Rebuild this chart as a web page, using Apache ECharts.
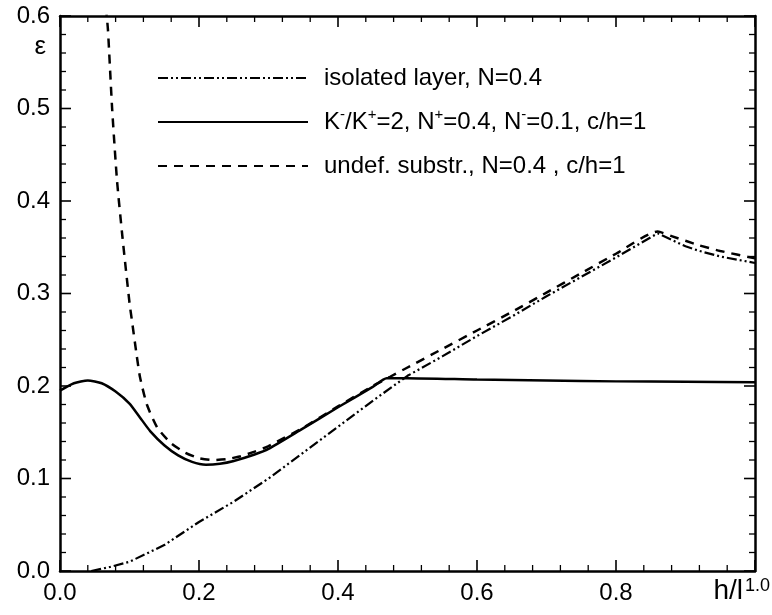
<!DOCTYPE html>
<html>
<head>
    <meta charset="utf-8" />
    <title>epsilon vs h/l</title>
    <script src="https://cdn.jsdelivr.net/npm/echarts@6/dist/echarts.min.js"></script>
    <style>
        html, body { margin: 0; padding: 0; background: #fff; }
        #chart1 { width: 772px; height: 615px; }
    </style>
</head>
<body>
    <div id="chart1"></div>
    <script type="text/javascript">
        // isolated layer (dash-dot-dot)
        var isoX = [0.045, 0.07, 0.1, 0.15, 0.2, 0.25, 0.3, 0.35, 0.4, 0.45, 0.5, 0.55, 0.6, 0.65, 0.7, 0.75, 0.8, 0.83, 0.86, 0.88, 0.9, 0.92, 0.95, 1.0];
        var isoY = [0.0, 0.004, 0.01, 0.028, 0.053, 0.075, 0.1, 0.128, 0.156, 0.184, 0.211, 0.232, 0.254, 0.275, 0.297, 0.318, 0.339, 0.352, 0.365, 0.358, 0.351, 0.346, 0.34, 0.333];
        // K-/K+=2 (solid)
        var kX = [0.0, 0.02, 0.04, 0.06, 0.08, 0.1, 0.115, 0.13, 0.15, 0.17, 0.19, 0.21, 0.23, 0.25, 0.28, 0.3, 0.345, 0.4, 0.45, 0.47, 0.5, 0.6, 0.7, 0.8, 0.9, 1.0];
        var kY = [0.195, 0.203, 0.206, 0.203, 0.194, 0.181, 0.166, 0.151, 0.136, 0.125, 0.118, 0.115, 0.116, 0.119, 0.126, 0.132, 0.152, 0.177, 0.199, 0.2085, 0.2085, 0.207, 0.206, 0.205, 0.2045, 0.204];
        // undeformable substrate (dashed)
        var subX = [0.066, 0.069, 0.075, 0.082, 0.09, 0.1, 0.104, 0.11, 0.115, 0.125, 0.14, 0.16, 0.18, 0.2, 0.22, 0.24, 0.26, 0.28, 0.3, 0.35, 0.4, 0.45, 0.475, 0.5, 0.55, 0.6, 0.65, 0.7, 0.75, 0.8, 0.86, 0.88, 0.9, 0.92, 0.95, 1.0];
        var subY = [0.61, 0.585, 0.5, 0.4225, 0.36, 0.29, 0.268, 0.235, 0.21, 0.18, 0.155, 0.138, 0.128, 0.122, 0.12, 0.121, 0.124, 0.129, 0.135, 0.155, 0.178, 0.2, 0.21, 0.22, 0.24, 0.26, 0.28, 0.301, 0.322, 0.343, 0.367, 0.362, 0.357, 0.352, 0.346, 0.338];

        var names = ['isolated layer, N=0.4', 'K^-/K^+=2, N^+=0.4, N^-=0.1, c/h=1', 'undef. substr., N=0.4 , c/h=1'];

        // tick positions (major and minor) on the frame
        var xMajor = [0, 0.2, 0.4, 0.6, 0.8, 1.0];
        var xMinor = [0.04, 0.08, 0.12, 0.16, 0.24, 0.28, 0.32, 0.36, 0.44, 0.48, 0.52, 0.56, 0.64, 0.68, 0.72, 0.76, 0.84, 0.88, 0.92, 0.96];
        var yMajor = [0, 0.1, 0.2, 0.3, 0.4, 0.5, 0.6];
        var yMinor = [0.02, 0.04, 0.06, 0.08, 0.12, 0.14, 0.16, 0.18, 0.22, 0.24, 0.26, 0.28, 0.32, 0.34, 0.36, 0.38, 0.42, 0.44, 0.46, 0.48, 0.52, 0.54, 0.56, 0.58];

        function pairs(xs, ys) {
            var out = [];
            for (var i = 0; i < xs.length; i++) out.push([xs[i], ys[i]]);
            return out;
        }

        // [value, axis (0 = x, 1 = y), major (1) / minor (0)]
        var tickData = [];
        xMajor.forEach(function (v) { tickData.push([v, 0, 1]); });
        xMinor.forEach(function (v) { tickData.push([v, 0, 0]); });
        yMajor.forEach(function (v) { tickData.push([v, 1, 1]); });
        yMinor.forEach(function (v) { tickData.push([v, 1, 0]); });

        var font = 'Liberation Sans, Arial, sans-serif';

        function frameAxis(extra) {
            var a = {
                type: 'value',
                z: 10,
                axisLine: { show: true, onZero: false, lineStyle: { color: '#000', width: 2.5 } },
                axisTick: { show: false },
                minorTick: { show: false },
                splitLine: { show: false },
                axisLabel: { show: false }
            };
            for (var k in extra) a[k] = extra[k];
            return a;
        }

        function renderTick(params, api) {
            var v = api.value(0), axis = api.value(1), major = api.value(2);
            var len = major ? 11 : 6;
            var w = major ? 1.6 : 1.3;
            var style = { stroke: '#000', lineWidth: w };
            var a, b;
            if (axis === 0) {
                a = api.coord([v, 0]);
                b = api.coord([v, 0.6]);
                return {
                    type: 'group', children: [
                        { type: 'line', shape: { x1: a[0], y1: a[1], x2: a[0], y2: a[1] - len }, style: style },
                        { type: 'line', shape: { x1: b[0], y1: b[1], x2: b[0], y2: b[1] + len }, style: style }
                    ]
                };
            }
            a = api.coord([0, v]);
            b = api.coord([1, v]);
            return {
                type: 'group', children: [
                    { type: 'line', shape: { x1: a[0], y1: a[1], x2: a[0] + len, y2: a[1] }, style: style },
                    { type: 'line', shape: { x1: b[0], y1: b[1], x2: b[0] - len, y2: b[1] }, style: style }
                ]
            };
        }

        var myChart1 = echarts.init(document.getElementById('chart1'));
        var option = {
            animation: false,
            backgroundColor: '#fff',
            color: ['#000', '#000', '#000'],
            grid: { left: 60, right: 17, top: 16, bottom: 44, outerBoundsMode: 'none' },
            legend: {
                orient: 'vertical',
                left: 152,
                top: 58,
                itemWidth: 150,
                itemHeight: 14,
                itemGap: 14,
                data: names,
                itemStyle: { opacity: 0 },
                formatter: function (name) {
                    return name.replace(/\^(.)/g, '{sup|$1}');
                },
                textStyle: {
                    fontFamily: font,
                    fontSize: 24,
                    color: '#000',
                    lineHeight: 30,
                    padding: [0, 0, 0, 11],
                    rich: {
                        sup: { fontFamily: font, fontSize: 15, color: '#000', verticalAlign: 'top', lineHeight: 30, padding: [0, 0, 10, 0] }
                    }
                }
            },
            xAxis: [
                frameAxis({
                    min: 0, max: 1, interval: 0.2, position: 'bottom',
                    name: '{a|h/l}{b|1.0}', nameLocation: 'end', nameGap: 15, nameMoveOverlap: false,
                    nameTextStyle: {
                        fontFamily: font, fontSize: 28, color: '#000', align: 'right', verticalAlign: 'top', padding: [6, 0, 0, 0],
                        rich: {
                            a: { fontFamily: font, fontSize: 28, color: '#000', lineHeight: 28, verticalAlign: 'bottom' },
                            b: { fontFamily: font, fontSize: 18, color: '#000', lineHeight: 28, verticalAlign: 'top', padding: [0, 0, 0, 2] }
                        }
                    },
                    axisLabel: {
                        show: true, margin: 10, fontFamily: font, fontSize: 24, color: '#000',
                        formatter: function (v) {
                            return v === 1 ? '' : v.toFixed(1);
                        }
                    }
                }),
                frameAxis({ min: 0, max: 1, interval: 0.2, position: 'top' })
            ],
            yAxis: [
                frameAxis({
                    min: 0, max: 0.6, interval: 0.1, position: 'left',
                    name: 'ε', nameLocation: 'end', nameGap: -31, nameMoveOverlap: false,
                    nameTextStyle: { fontFamily: font, fontSize: 26, color: '#000', align: 'right', verticalAlign: 'middle', padding: [0, 14, 0, 0] },
                    axisLabel: {
                        show: true, margin: 10, fontFamily: font, fontSize: 24, color: '#000',
                        formatter: function (v) { return v.toFixed(1); }
                    }
                }),
                frameAxis({ min: 0, max: 0.6, interval: 0.1, position: 'right' })
            ],
            series: [
                {
                    name: names[0], type: 'line', showSymbol: false, symbol: 'none',
                    data: pairs(isoX, isoY),
                    lineStyle: { color: '#000', width: 2.2, type: [10, 3, 2, 3, 2, 3] }
                },
                {
                    name: names[1], type: 'line', showSymbol: false, symbol: 'none',
                    data: pairs(kX, kY), smooth: 0.2,
                    lineStyle: { color: '#000', width: 2.5, type: 'solid' }
                },
                {
                    name: names[2], type: 'line', showSymbol: false, symbol: 'none',
                    data: pairs(subX, subY), smooth: 0.2,
                    lineStyle: { color: '#000', width: 2.5, type: [9, 7] }
                },
                {
                    name: 'ticks', type: 'custom', silent: true, z: 5,
                    encode: { x: 0, y: -1 },
                    renderItem: renderTick,
                    data: tickData
                }
            ]
        };
        myChart1.setOption(option);
    </script>
</body>
</html>
